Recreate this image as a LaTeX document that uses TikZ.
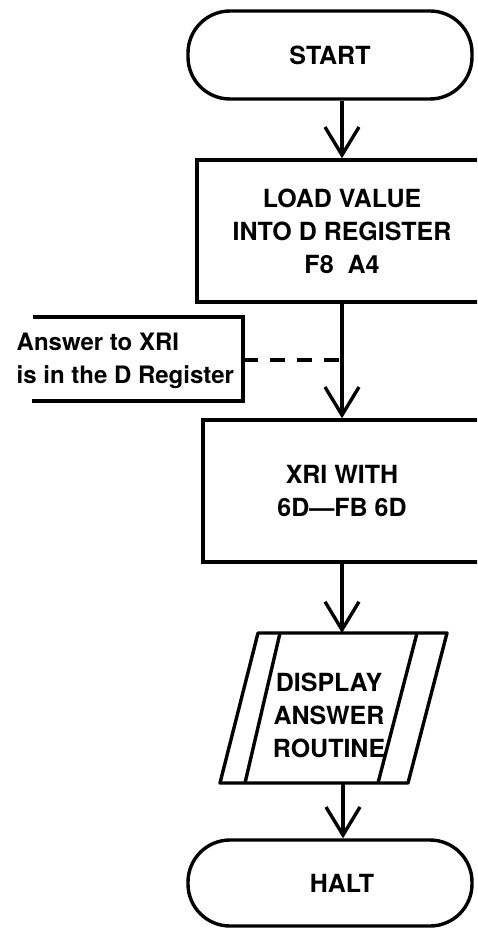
\documentclass[tikz,border=0pt]{standalone}
\usepackage{fontspec}
\setmainfont{TeX Gyre Heros}
\usetikzlibrary{arrows.meta}
\begin{document}
\begin{tikzpicture}[x=1pt,y=-1pt,
  line width=3.4pt,
  every node/.style={font=\fontsize{25}{33}\selectfont\bfseries, inner sep=0pt},
  term/.style={draw, line width=3.4pt, rounded corners=42pt, minimum width=284pt, minimum height=88pt},
  procbox/.style={draw, line width=3.4pt, minimum width=290pt, minimum height=142pt, align=center},
  flow/.style={-{Straight Barb[length=28pt,width=34pt]}, line join=round},
  notetext/.style={align=left, anchor=west, font=\fontsize{24}{33}\selectfont\bfseries},
  link/.style={dash pattern=on 15pt off 12pt},
  ]
\clip (0,0) rectangle (477,928);
% nodes
\node[term] (start) at (330,55) {START};
\node[procbox] (load) at (342,231) {LOAD VALUE\\INTO D REGISTER\\F8\ \ A4};
\node[procbox, minimum width=278pt] (xri) at (342,491) {XRI WITH\\6D—FB 6D};
\node[align=center] (disp) at (329,715) {DISPLAY\\ANSWER\\ROUTINE};
\node[term, minimum height=86pt] (halt) at (330,883) {\hspace*{24pt}HALT};
\node[notetext] (note) at (15,361) {Answer to XRI\\is in the D Register};
% display (input/output) shape with inner bars
\draw[line join=round] (258,633) -- (447,633) -- (408,783) -- (220,783) -- cycle;
\draw (280,633) -- (245,783);
\draw (417,633) -- (378,783);
% annotation bracket
\draw (33,317) -- (243,317) -- (243,401) -- (32,401);
\coordinate (nr) at (243,360);
\coordinate (dtop) at (342,633);
\coordinate (dbot) at (343,783);
% connectors
\draw[flow] (start.south -| load.north) -- (load.north);
\draw[flow] (load.south) -- (xri.north);
\draw[flow] (xri.south) -- (dtop);
\draw[flow] (dbot) -- (dbot |- halt.north);
\draw[link] (nr) -- (nr -| load.south);
\end{tikzpicture}
\end{document}
